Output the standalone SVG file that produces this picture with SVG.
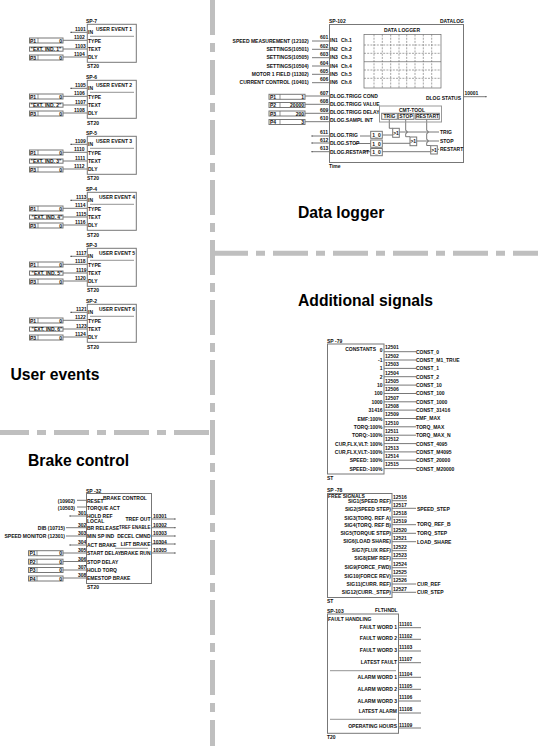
<svg xmlns="http://www.w3.org/2000/svg" width="538" height="746" viewBox="0 0 538 746">
<style>
.t{font-family:"Liberation Sans",Arial,sans-serif;font-size:5px;font-weight:700;fill:#111}
.e{text-anchor:end}
.m{text-anchor:middle}
.s{font-size:4.5px}
.h{font-family:"Liberation Sans",Arial,sans-serif;font-size:15.7px;font-weight:700;fill:#000}
.b{fill:none;stroke:#777;stroke-width:1}
.p{fill:#fff;stroke:#777;stroke-width:1}
.r{fill:none;stroke:#666;stroke-width:.7}
.w{fill:none;stroke:#555;stroke-width:.8}
.k{fill:none;stroke:#000;stroke-width:1}
.d{fill:none;stroke:#bfbfbf;stroke-width:5;stroke-dasharray:35 8 9 8}
.g{fill:none;stroke:#666;stroke-width:.6;stroke-dasharray:2 1.2}
</style>

<g id="separators">
<line class="d" x1="212.5" y1="0" x2="212.5" y2="746"/>
<line class="d" x1="213" y1="253.3" x2="538" y2="253.3"/>
<line class="d" x1="-6" y1="432.5" x2="210" y2="432.5"/>
</g>

<g id="titles">
<text class="h" x="10.5" y="380">User events</text>
<text class="h" x="28" y="465.7">Brake control</text>
<text class="h" x="298" y="218">Data logger</text>
<text class="h" x="298" y="306">Additional signals</text>
</g>

<g id="connectors">
<path class="w" d="M71 32.3H87M63 40.3H87M63 49H87M63 57H87"/>
<path class="w" d="M71 88.3H87M63 96.3H87M63 105H87M63 113H87"/>
<path class="w" d="M71 144.3H87M63 152.3H87M63 161H87M63 169H87"/>
<path class="w" d="M71 200.3H87M63 208.3H87M63 217H87M63 225H87"/>
<path class="w" d="M71 256.3H87M63 264.3H87M63 273H87M63 281H87"/>
<path class="w" d="M71 312.3H87M63 320.3H87M63 329H87M63 337H87"/>
<path class="k" d="M70.5 32.3h1M70.5 88.3h1M70.5 144.3h1M70.5 200.3h1M70.5 256.3h1M70.5 312.3h1M69.5 516h1M69.5 545h1M174.5 519h1M174.5 527.7h1M174.5 536h1M174.5 544h1M174.5 553h1M485.5 96.7h1M311.5 136h1M311.5 143h1M311.5 151.7h1"/>
<path class="w" d="M77 500.3H86M77 507H86M70 516H86M66 527.7H86M66 536H86M70 545H86M63 553H86M63 561.5H86M63 570H86M63 578H86"/>
<path class="w" d="M152 519H175M152 527.7H175M152 536H175M152 544H175M152 553H175"/>
<path class="w" d="M312 41H329M312 49.3H329M312 57.7H329M312 66H329M312 74.3H329M312 82.7H329M305 96H329M305 104.3H329M305 113.3H329M305 121.7H329M312 136H329M312 143H329M312 151.7H329"/>
<path class="w" d="M464 96.7H486"/>
<path class="w" d="M360 136H370.7M355 143.5H370.7M364 151.7H370.7M382.3 135H392.7M382.3 143.3H410M382.3 151.7H430.7"/>
<path class="w" d="M389.3 119.3V128.3H392.7M405.7 119.3V130.5a1.5 1.5 0 0 1 0 3V136.7H410M426.7 119.3V130.5a1.5 1.5 0 0 1 0 3V139.5a1.5 1.5 0 0 1 0 3V145.5H430.7"/>
<path class="w" d="M399.3 132H439M416.7 141H439M437.3 149.3H439"/>
<path class="w" d="M384 351.7H416M384 360H416M384 368.4H416M384 376.7H416M384 385.1H416M384 393.5H416M384 401.8H416M384 410.1H416M384 418.5H416M384 426.8H416M384 435.2H416M384 443.6H416M384 451.9H416M384 460.2H416M384 468.6H416"/>
<path class="w" d="M392 500.7H407M392 508.3H416M392 517H407M392 524.7H416M392 533.3H416M392 541.7H416M392 550.7H407M392 558.7H407M392 567.7H407M392 576H407M392 584H416M392 592.3H416"/>
<path class="w" d="M399 627.7H421M399 639.3H421M399 651H421M399 662.7H421M399 677.3H421M399 689.3H421M399 701H421M399 713H421M399 728H421"/>
</g>

<g id="wire-numbers">
<text class="t" x="75" y="31">1101</text><text class="t" x="74" y="38.7">1102</text><text class="t" x="75" y="47.5">1103</text><text class="t" x="74" y="55.5">1104</text>
<text class="t" x="75" y="87">1105</text><text class="t" x="74" y="95">1106</text><text class="t" x="75" y="103.5">1107</text><text class="t" x="74" y="111.5">1108</text>
<text class="t" x="75" y="143">1109</text><text class="t" x="74" y="151">1110</text><text class="t" x="75" y="159.5">1111</text><text class="t" x="74" y="167.5">1112</text>
<text class="t" x="76" y="199">1113</text><text class="t" x="75" y="207">1114</text><text class="t" x="76" y="215.5">1115</text><text class="t" x="75" y="223.5">1116</text>
<text class="t" x="76" y="255">1117</text><text class="t" x="75" y="263">1118</text><text class="t" x="76" y="271.5">1119</text><text class="t" x="75" y="279.5">1120</text>
<text class="t" x="76" y="311">1121</text><text class="t" x="75" y="319">1122</text><text class="t" x="76" y="327.5">1123</text><text class="t" x="75" y="335.5">1124</text>
<text class="t" x="78" y="515">301</text><text class="t" x="78" y="527">302</text><text class="t" x="78" y="535">303</text><text class="t" x="78" y="544">304</text><text class="t" x="78" y="552">305</text><text class="t" x="78" y="560.5">306</text><text class="t" x="78" y="569">307</text><text class="t" x="78" y="577">308</text>
<text class="t" x="153" y="518">10301</text><text class="t" x="153" y="527">10302</text><text class="t" x="153" y="535">10303</text><text class="t" x="153" y="543.5">10304</text><text class="t" x="153" y="552">10305</text>
<text class="t" x="320" y="39">601</text><text class="t" x="320" y="47.5">602</text><text class="t" x="320" y="56">603</text><text class="t" x="320" y="64.5">604</text><text class="t" x="320" y="73">605</text><text class="t" x="320" y="81">606</text><text class="t" x="320" y="95">607</text><text class="t" x="320" y="103">608</text><text class="t" x="320" y="111.5">609</text><text class="t" x="320" y="120">610</text><text class="t" x="320" y="134">611</text><text class="t" x="320" y="142">612</text><text class="t" x="320" y="150">613</text>
<text class="t" x="464.5" y="95">10001</text>
<text class="t" x="385" y="349.4">12501</text><text class="t" x="385" y="357.8">12502</text><text class="t" x="385" y="366.1">12503</text><text class="t" x="385" y="374.5">12504</text><text class="t" x="385" y="382.8">12505</text><text class="t" x="385" y="391.2">12506</text><text class="t" x="385" y="399.5">12507</text><text class="t" x="385" y="407.9">12508</text><text class="t" x="385" y="416.2">12509</text><text class="t" x="385" y="424.6">12510</text><text class="t" x="385" y="432.9">12511</text><text class="t" x="385" y="441.3">12512</text><text class="t" x="385" y="449.6">12513</text><text class="t" x="385" y="458">12514</text><text class="t" x="385" y="466.3">12515</text>
<text class="t" x="393" y="498.5">12516</text><text class="t" x="393" y="506.5">12517</text><text class="t" x="393" y="515">12518</text><text class="t" x="393" y="523">12519</text><text class="t" x="393" y="531.5">12520</text><text class="t" x="393" y="540">12521</text><text class="t" x="393" y="549">12522</text><text class="t" x="393" y="557">12523</text><text class="t" x="393" y="566">12524</text><text class="t" x="393" y="574">12525</text><text class="t" x="393" y="582">12526</text><text class="t" x="393" y="590.5">12527</text>
<text class="t" x="399" y="626">11101</text><text class="t" x="399" y="637.7">11102</text><text class="t" x="399" y="649.4">11103</text><text class="t" x="399" y="661">11107</text><text class="t" x="399" y="675.5">11104</text><text class="t" x="399" y="687.7">11105</text><text class="t" x="399" y="699.4">11106</text><text class="t" x="399" y="711">11108</text><text class="t" x="399" y="726.5">11109</text>
</g>

<g id="user-event-1">
<text class="t" x="86" y="23">SP-7</text><rect class="b" x="87.3" y="24.3" width="49" height="38"/>
<text class="t" x="96" y="31">USER EVENT 1</text><line class="r" x1="90" y1="36.3" x2="134" y2="36.3"/>
<text class="t" x="88" y="34.3">IN</text><text class="t" x="88" y="42.5">TYPE</text><text class="t" x="88" y="51">TEXT</text><text class="t" x="88" y="59">DLY</text><text class="t" x="87" y="68">ST20</text>
<rect class="p" x="29.5" y="38" width="33.5" height="5"/><line class="r" x1="38" y1="38" x2="38" y2="43"/><text class="t" x="30" y="42.6">P1</text><text class="t e" x="62" y="42.6">0</text>
<rect class="p" x="29.5" y="47" width="33.5" height="4.2"/><text class="t m" x="46" y="51">"EXT. IND. 1"</text>
<rect class="p" x="29.5" y="55" width="33.5" height="5"/><line class="r" x1="38" y1="55" x2="38" y2="60"/><text class="t" x="30" y="59.6">P3</text><text class="t e" x="62" y="59.6">0</text>
</g>
<g id="user-event-2">
<text class="t" x="86" y="79">SP-6</text><rect class="b" x="87.3" y="80.3" width="49" height="38"/>
<text class="t" x="96" y="87">USER EVENT 2</text><line class="r" x1="90" y1="92.3" x2="134" y2="92.3"/>
<text class="t" x="88" y="90.3">IN</text><text class="t" x="88" y="98.5">TYPE</text><text class="t" x="88" y="107">TEXT</text><text class="t" x="88" y="115">DLY</text><text class="t" x="87" y="124.5">ST20</text>
<rect class="p" x="29.5" y="94" width="33.5" height="5"/><line class="r" x1="38" y1="94" x2="38" y2="99"/><text class="t" x="30" y="98.6">P1</text><text class="t e" x="62" y="98.6">0</text>
<rect class="p" x="29.5" y="103" width="33.5" height="4.2"/><text class="t m" x="46" y="107">"EXT. IND. 2"</text>
<rect class="p" x="29.5" y="111" width="33.5" height="5"/><line class="r" x1="38" y1="111" x2="38" y2="116"/><text class="t" x="30" y="115.6">P3</text><text class="t e" x="62" y="115.6">0</text>
</g>
<g id="user-event-3">
<text class="t" x="86" y="135">SP-5</text><rect class="b" x="87.3" y="136.3" width="49" height="38"/>
<text class="t" x="96" y="143">USER EVENT 3</text><line class="r" x1="90" y1="148.3" x2="134" y2="148.3"/>
<text class="t" x="88" y="146.3">IN</text><text class="t" x="88" y="154.5">TYPE</text><text class="t" x="88" y="163">TEXT</text><text class="t" x="88" y="171">DLY</text><text class="t" x="87" y="180">ST20</text>
<rect class="p" x="29.5" y="150" width="33.5" height="5"/><line class="r" x1="38" y1="150" x2="38" y2="155"/><text class="t" x="30" y="154.6">P1</text><text class="t e" x="62" y="154.6">0</text>
<rect class="p" x="29.5" y="159" width="33.5" height="4.2"/><text class="t m" x="46" y="163">"EXT. IND. 3"</text>
<rect class="p" x="29.5" y="167" width="33.5" height="5"/><line class="r" x1="38" y1="167" x2="38" y2="172"/><text class="t" x="30" y="171.6">P3</text><text class="t e" x="62" y="171.6">0</text>
</g>
<g id="user-event-4">
<text class="t" x="86" y="191">SP-4</text><rect class="b" x="87.3" y="192.3" width="49" height="38"/>
<text class="t" x="99" y="199">USER EVENT 4</text><line class="r" x1="90" y1="204.3" x2="134" y2="204.3"/>
<text class="t" x="88" y="202.3">IN</text><text class="t" x="88" y="210.5">TYPE</text><text class="t" x="88" y="219">TEXT</text><text class="t" x="88" y="227">DLY</text><text class="t" x="87" y="236.5">ST20</text>
<rect class="p" x="29.5" y="206" width="33.5" height="5"/><line class="r" x1="38" y1="206" x2="38" y2="211"/><text class="t" x="30" y="210.6">P1</text><text class="t e" x="62" y="210.6">0</text>
<rect class="p" x="29.5" y="215" width="33.5" height="4.2"/><text class="t m" x="47" y="219">"EXT. IND. 4"</text>
<rect class="p" x="29.5" y="223" width="33.5" height="5"/><line class="r" x1="38" y1="223" x2="38" y2="228"/><text class="t" x="30" y="227.6">P3</text><text class="t e" x="62" y="227.6">0</text>
</g>
<g id="user-event-5">
<text class="t" x="86" y="247">SP-3</text><rect class="b" x="87.3" y="248.3" width="49" height="38"/>
<text class="t" x="99" y="255">USER EVENT 5</text><line class="r" x1="90" y1="260.3" x2="134" y2="260.3"/>
<text class="t" x="88" y="258.3">IN</text><text class="t" x="88" y="266.5">TYPE</text><text class="t" x="88" y="275">TEXT</text><text class="t" x="88" y="283">DLY</text><text class="t" x="87" y="292">ST20</text>
<rect class="p" x="29.5" y="262" width="33.5" height="5"/><line class="r" x1="38" y1="262" x2="38" y2="267"/><text class="t" x="30" y="266.6">P1</text><text class="t e" x="62" y="266.6">0</text>
<rect class="p" x="29.5" y="271" width="33.5" height="4.2"/><text class="t m" x="47" y="275">"EXT. IND. 5"</text>
<rect class="p" x="29.5" y="279" width="33.5" height="5"/><line class="r" x1="38" y1="279" x2="38" y2="284"/><text class="t" x="30" y="283.6">P3</text><text class="t e" x="62" y="283.6">0</text>
</g>
<g id="user-event-6">
<text class="t" x="86" y="303">SP-2</text><rect class="b" x="87.3" y="304.3" width="49" height="38"/>
<text class="t" x="99" y="311">USER EVENT 6</text><line class="r" x1="90" y1="316.3" x2="134" y2="316.3"/>
<text class="t" x="88" y="314.3">IN</text><text class="t" x="88" y="322.5">TYPE</text><text class="t" x="88" y="331">TEXT</text><text class="t" x="88" y="339">DLY</text><text class="t" x="87" y="348.5">ST20</text>
<rect class="p" x="29.5" y="318" width="33.5" height="5"/><line class="r" x1="38" y1="318" x2="38" y2="323"/><text class="t" x="30" y="322.6">P1</text><text class="t e" x="62" y="322.6">0</text>
<rect class="p" x="29.5" y="327" width="33.5" height="4.2"/><text class="t m" x="47" y="331">"EXT. IND. 6"</text>
<rect class="p" x="29.5" y="335" width="33.5" height="5"/><line class="r" x1="38" y1="335" x2="38" y2="340"/><text class="t" x="30" y="339.6">P3</text><text class="t e" x="62" y="339.6">0</text>
</g>

<g id="brake-control">
<text class="t" x="86" y="493">SP -32</text><rect class="b" x="86.5" y="493.5" width="65" height="90"/>
<text class="t" x="103" y="499.5">BRAKE CONTROL</text>
<text class="t" x="87" y="502.7">RESET</text><text class="t" x="87" y="509.5">TORQUE ACT</text><text class="t" x="87" y="517.5">HOLD REF</text><text class="t" x="87" y="523">LOCAL</text><text class="t" x="87" y="529.5">BR RELEASE</text><text class="t" x="87" y="537.5">MIN SP IND</text><text class="t" x="87" y="546.7">ACT BRAKE</text><text class="t" x="87" y="554.5">START DELAY</text><text class="t" x="87" y="563.5">STOP DELAY</text><text class="t" x="87" y="571.7">HOLD TORQ</text><text class="t" x="87" y="579.5">EMESTOP BRAKE</text>
<text class="t e" x="150.5" y="520.7">TREF OUT</text><text class="t e s" x="150.5" y="528.5">TREF ENABLE</text><text class="t e" x="150.5" y="537.5">DECEL CMND</text><text class="t e" x="150.5" y="545.5">LIFT BRAKE</text><text class="t e" x="150.5" y="554.7">BRAKE RUN</text>
<line class="r" x1="115" y1="548.3" x2="148" y2="548.3"/>
<text class="t" x="87" y="589">ST20</text>
<text class="t e" x="75" y="502.5">(10902)</text><text class="t e" x="75" y="509.5">(10503)</text><text class="t e" x="65" y="529.5">DIB (10715)</text><text class="t e" x="65" y="537.5">SPEED MONITOR (12301)</text>
<rect class="p" x="28.5" y="550.7" width="34.5" height="5"/><line class="r" x1="37" y1="550.7" x2="37" y2="555.7"/><text class="t" x="29.5" y="555.3">P1</text><text class="t e" x="62" y="555.3">0</text>
<rect class="p" x="28.5" y="559.2" width="34.5" height="5"/><line class="r" x1="37" y1="559.2" x2="37" y2="564.2"/><text class="t" x="29.5" y="563.8">P2</text><text class="t e" x="62" y="563.8">0</text>
<rect class="p" x="28.5" y="567.5" width="34.5" height="5"/><line class="r" x1="37" y1="567.5" x2="37" y2="572.5"/><text class="t" x="29.5" y="572.1">P3</text><text class="t e" x="62" y="572.1">0</text>
<rect class="p" x="28.5" y="576" width="34.5" height="5"/><line class="r" x1="37" y1="576" x2="37" y2="581"/><text class="t" x="29.5" y="580.6">P4</text><text class="t e" x="62" y="580.6">0</text>
</g>

<g id="data-logger">
<text class="t" x="329" y="23">SP-102</text><text class="t" x="440" y="22.5">DATALOG</text>
<rect class="b" x="329.5" y="24.5" width="134" height="138"/>
<text class="t m" x="402" y="32">DATA LOGGER</text>
<rect class="r" x="364" y="34.5" width="77" height="53.5"/>
<path class="g" d="M374 34.5V88M382.3 34.5V88M390.7 34.5V88M399 34.5V88M406.7 34.5V88M415 34.5V88M423.3 34.5V88M431.7 34.5V88M364 45H441M364 53.3H441M364 70H441M364 78.3H441"/>
<line class="r" x1="364" y1="61.7" x2="441" y2="61.7"/>
<text class="t e" x="308.7" y="42.5">SPEED MEASUREMENT (12102)</text><text class="t e" x="308.7" y="50.7">SETTINGS(10501)</text><text class="t e" x="308.7" y="59">SETTINGS(10505)</text><text class="t e" x="308.7" y="67.5">SETTINGS(10504)</text><text class="t e" x="308.7" y="75.5">MOTOR 1 FIELD (11302)</text><text class="t e" x="308.7" y="83.7">CURRENT CONTROL (10401)</text>
<text class="t" x="330" y="42.2">IN1</text><text class="t" x="341" y="42.2">Ch.1</text><text class="t" x="330" y="50.5">IN2</text><text class="t" x="341" y="50.5">Ch.2</text><text class="t" x="330" y="59">IN3</text><text class="t" x="341" y="59">Ch.3</text><text class="t" x="330" y="67.5">IN4</text><text class="t" x="341" y="67.5">Ch.4</text><text class="t" x="330" y="76">IN5</text><text class="t" x="341" y="76">Ch.5</text><text class="t" x="330" y="84.2">IN6</text><text class="t" x="341" y="84.2">Ch.6</text>
<text class="t" x="330" y="97.5">DLOG.TRIGG COND</text><text class="t" x="330" y="105.7">DLOG.TRIGG VALUE</text><text class="t" x="330" y="114">DLOG.TRIGG DELAY</text><text class="t" x="330" y="122">DLOG.SAMPL INT</text>
<text class="t" x="330" y="136.7">DLOG.TRIG</text><text class="t" x="330" y="145">DLOG.STOP</text><text class="t" x="330" y="153.5">DLOG.RESTART</text>
<text class="t" x="329" y="168">Time</text>
<text class="t e" x="461" y="99.5">DLOG STATUS</text>
<rect class="p" x="269" y="94.3" width="36" height="5"/><line class="r" x1="280" y1="94.3" x2="280" y2="99.3"/><text class="t" x="270" y="98.9">P1</text><text class="t e" x="304" y="98.9">1</text>
<rect class="p" x="269" y="102.5" width="36" height="5"/><line class="r" x1="280" y1="102.5" x2="280" y2="107.5"/><text class="t" x="270" y="107.1">P2</text><text class="t e" x="304" y="107.1">20000</text>
<rect class="p" x="269" y="111" width="36" height="5"/><line class="r" x1="280" y1="111" x2="280" y2="116"/><text class="t" x="270" y="115.6">P3</text><text class="t e" x="304" y="115.6">200</text>
<rect class="p" x="269" y="119.5" width="36" height="5"/><line class="r" x1="280" y1="119.5" x2="280" y2="124.5"/><text class="t" x="270" y="124.1">P4</text><text class="t e" x="304" y="124.1">3</text>
</g>

<g id="cmt-tool">
<rect x="379.5" y="106" width="62" height="16" fill="none" stroke="#999" stroke-width="1"/>
<text class="t m" x="412" y="112">CMT-TOOL</text>
<rect class="p" x="381.7" y="113.3" width="15.6" height="6"/><text class="t m" x="389.5" y="118.3">TRIG</text>
<rect class="p" x="398.3" y="113.3" width="15.7" height="6"/><text class="t m" x="406" y="118.3">STOP</text>
<rect class="p" x="415.7" y="113.3" width="23.6" height="6"/><text class="t m" x="427.5" y="118.3">RESTART</text>
</g>
<g id="timer-1"><rect class="p" x="370.7" y="131.3" width="11.6" height="7"/><text class="t m" x="376.5" y="137">1_0</text></g>
<g id="timer-2"><rect class="p" x="370.7" y="140" width="11.6" height="7.3"/><text class="t m" x="376.5" y="145.8">1_0</text></g>
<g id="timer-3"><rect class="p" x="370.7" y="148.5" width="11.6" height="7.2"/><text class="t m" x="376.5" y="154.3">1_0</text></g>
<g id="gate-1"><rect class="p" x="392.7" y="128.3" width="6.6" height="9"/><text class="t m" x="396" y="134.5">&gt;1</text></g>
<g id="gate-2"><rect class="p" x="410" y="137" width="6.7" height="8.7"/><text class="t m" x="413.3" y="143">&gt;1</text></g>
<g id="gate-3"><rect class="p" x="430.7" y="145.7" width="6.6" height="8.3"/><text class="t m" x="434" y="151.5">&gt;1</text></g>
<g id="cmt-outputs"><text class="t" x="440" y="134">TRIG</text><text class="t" x="440" y="142.7">STOP</text><text class="t" x="440" y="151">RESTART</text></g>

<g id="constants">
<text class="t" x="327" y="343">SP -79</text><rect class="b" x="327.5" y="344" width="56.5" height="130"/>
<text class="t e" x="376" y="350.7">CONSTANTS</text>
<text class="t e" x="382.5" y="352.3">0</text><text class="t e" x="382.5" y="362">-1</text><text class="t e" x="382.5" y="370">1</text><text class="t e" x="382.5" y="378.7">2</text><text class="t e" x="382.5" y="387">10</text><text class="t e" x="382.5" y="395">100</text><text class="t e" x="382.5" y="403.7">1000</text><text class="t e" x="382.5" y="412">31416</text>
<text class="t e" x="382.5" y="420.7">EMF:100%</text><text class="t e" x="382.5" y="428.7">TORQ:100%</text><text class="t e" x="382.5" y="436.7">TORQ:-100%</text><text class="t e" x="382.5" y="445.7">CUR,FLX,VLT: 100%</text><text class="t e" x="382.5" y="453.7">CUR,FLX,VLT:-100%</text><text class="t e" x="382.5" y="462">SPEED: 100%</text><text class="t e" x="382.5" y="470.7">SPEED:-100%</text>
<text class="t" x="327" y="480">ST</text>
<text class="t" x="416" y="353.5">CONST_0</text><text class="t" x="416" y="362">CONST_M1_TRUE</text><text class="t" x="416" y="370.3">CONST_1</text><text class="t" x="416" y="378.7">CONST_2</text><text class="t" x="416" y="387">CONST_10</text><text class="t" x="416" y="395.4">CONST_100</text><text class="t" x="416" y="403.7">CONST_1000</text><text class="t" x="416" y="412">CONST_31416</text><text class="t" x="416" y="420.4">EMF_MAX</text><text class="t" x="416" y="428.8">TORQ_MAX</text><text class="t" x="416" y="437.1">TORQ_MAX_N</text><text class="t" x="416" y="445.5">CONST_4095</text><text class="t" x="416" y="453.8">CONST_M4095</text><text class="t" x="416" y="462.2">CONST_20000</text><text class="t" x="416" y="470.5">CONST_M20000</text>
</g>

<g id="free-signals">
<text class="t" x="327" y="492">SP -78</text><rect class="b" x="327.5" y="493.5" width="64.5" height="104"/>
<text class="t" x="328" y="497.7">FREE SIGNALS</text>
<text class="t e" x="391" y="503.4">SIG1(SPEED REF)</text><text class="t e" x="391" y="510.7">SIG2(SPEED STEP)</text><text class="t e" x="391" y="519.7">SIG3(TORQ. REF A)</text><text class="t e" x="391" y="526.7">SIG4(TORQ. REF B)</text><text class="t e" x="391" y="535">SIG5(TORQUE STEP)</text><text class="t e" x="391" y="543.4">SIG6(LOAD SHARE)</text><text class="t e" x="391" y="552.4">SIG7(FLUX REF)</text><text class="t e" x="391" y="560.4">SIG8(EMF REF)</text><text class="t e" x="391" y="569.4">SIG9(FORCE_FWD)</text><text class="t e" x="391" y="577.7">SIG10(FORCE REV)</text><text class="t e" x="391" y="585.7">SIG11(CURR. REF)</text><text class="t e" x="391" y="594">SIG12(CURR._STEP)</text>
<text class="t" x="327" y="603">ST</text>
<text class="t" x="417" y="510.7">SPEED_STEP</text><text class="t" x="417" y="526.4">TORQ_REF_B</text><text class="t" x="417" y="535.4">TORQ_STEP</text><text class="t" x="417" y="543.7">LOAD_SHARE</text><text class="t" x="417" y="585.7">CUR_REF</text><text class="t" x="417" y="594">CUR_STEP</text>
</g>

<g id="fault-handling">
<text class="t" x="327" y="612.7">SP-103</text><text class="t" x="375" y="612">FLTHNDL</text>
<rect class="b" x="327.5" y="614" width="71" height="119.3"/>
<text class="t" x="328" y="621">FAULT HANDLING</text>
<text class="t e" x="397" y="628.7">FAULT WORD 1</text><text class="t e" x="397" y="639.7">FAULT WORD 2</text><text class="t e" x="397" y="651.7">FAULT WORD 3</text><text class="t e" x="397" y="663.7">LATEST FAULT</text>
<line class="r" x1="330" y1="670.7" x2="396" y2="670.7"/>
<text class="t e" x="397" y="678.7">ALARM WORD 1</text><text class="t e" x="397" y="690.7">ALARM WORD 2</text><text class="t e" x="397" y="702.7">ALARM WORD 3</text><text class="t e" x="397" y="713.4">LATEST ALARM</text>
<line class="r" x1="330" y1="719.3" x2="396" y2="719.3"/>
<text class="t e" x="397" y="728.4">OPERATING HOURS</text>
<text class="t" x="327" y="739">T20</text>
</g>
</svg>
